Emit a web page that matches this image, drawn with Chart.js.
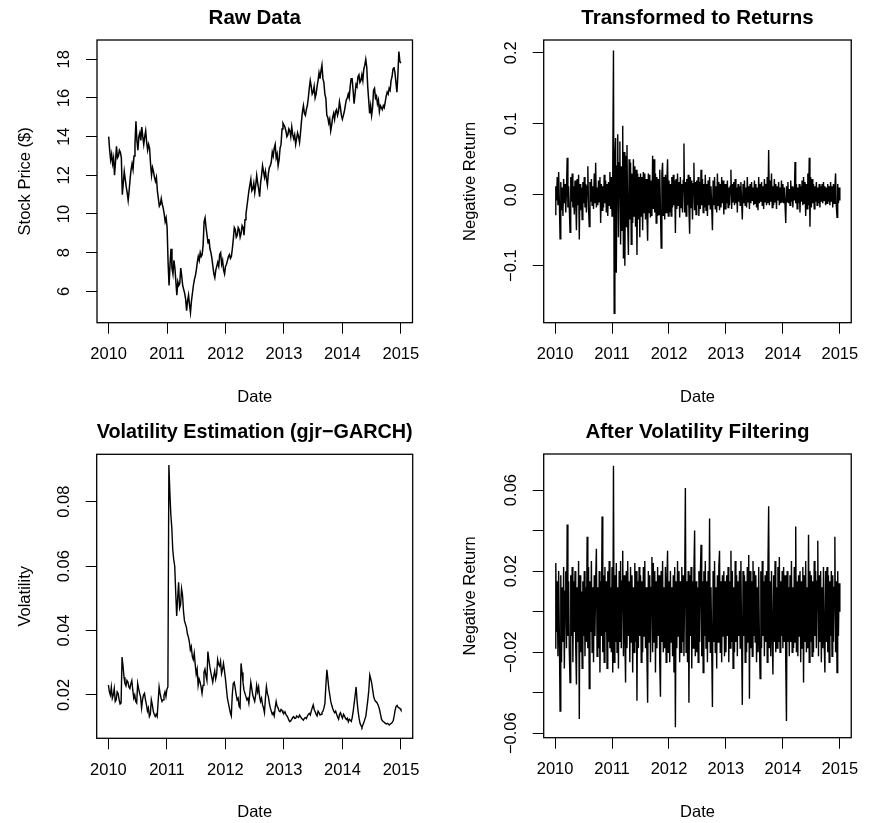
<!DOCTYPE html>
<html><head><meta charset="utf-8">
<script src="https://cdn.jsdelivr.net/npm/chart.js@4.4.1/dist/chart.umd.min.js"></script>
<style>
html,body{margin:0;padding:0;background:#fff;overflow:hidden}
#wrap{position:relative;width:870px;height:823px;background:#fff}
canvas{position:absolute}
</style></head><body>
<div id="wrap">
<canvas id="c1" width="435" height="411" style="left:0;top:0"></canvas>
<canvas id="c2" width="435" height="411" style="left:435px;top:0"></canvas>
<canvas id="c3" width="435" height="412" style="left:0;top:411px"></canvas>
<canvas id="c4" width="435" height="412" style="left:435px;top:411px"></canvas>
</div>
<script>
// ---------- data ----------
const startYear = 2010, endYear = 2015;
const xTicks = [2010, 2011, 2012, 2013, 2014, 2015];
const xTitle = 'Date';

const priceValues = [
 14.0,13.3,12.8,13.1,12.6,12.9,12.0,12.7,13.5,12.9,
 13.0,13.3,13.2,12.9,11.0,11.6,12.2,11.8,11.4,11.1,
 10.7,11.2,11.8,12.3,12.6,12.3,13.0,13.6,14.8,13.8,
 13.3,14.0,14.2,13.8,14.5,14.0,13.6,14.0,14.3,13.7,
 13.3,13.6,13.4,12.6,12.0,12.4,12.2,11.9,11.7,11.9,
 11.2,10.8,10.4,10.5,10.8,10.5,10.3,10.0,9.6,9.8,
 9.3,7.5,6.3,7.4,8.2,7.2,6.9,7.6,7.2,6.5,
 5.8,6.5,6.3,6.4,7.2,6.8,6.3,6.1,5.9,5.6,
 5.0,5.5,5.8,5.3,4.9,5.5,5.9,6.3,6.6,6.8,
 7.1,7.5,7.8,7.6,8.0,7.8,7.9,8.4,9.6,9.8,
 9.3,8.9,8.5,8.7,8.2,8.0,7.7,7.3,6.9,6.7,
 7.1,7.3,7.5,7.3,7.9,8.0,7.4,7.6,7.1,6.9,
 7.3,7.4,7.6,7.8,7.9,7.7,7.8,8.2,8.7,9.3,
 9.2,8.8,8.9,9.3,9.2,8.8,9.0,9.4,9.3,8.9,
 9.7,10.0,10.4,10.8,11.2,11.5,11.8,11.2,11.3,11.6,
 11.1,11.5,12.0,11.6,11.3,10.9,11.6,12.0,12.5,12.2,
 11.9,12.2,11.8,11.5,12.1,12.4,12.5,12.7,13.2,13.0,
 13.4,13.6,12.9,13.1,12.5,12.8,13.4,13.6,14.4,14.7,
 14.6,14.5,14.3,14.0,14.1,14.4,14.3,14.0,14.5,14.1,
 13.9,14.1,13.6,13.9,14.2,14.0,13.7,14.2,14.8,15.3,
 15.6,15.2,15.1,15.4,15.6,16.0,16.5,16.9,16.6,16.2,
 16.3,16.6,16.0,16.2,16.6,16.9,17.3,17.0,17.4,17.7,
 17.0,16.8,16.2,16.0,15.1,15.0,14.7,14.9,14.3,14.6,
 15.0,15.2,14.9,15.3,15.4,15.1,15.3,15.8,15.5,15.1,
 14.9,15.1,15.3,15.6,15.9,16.0,16.2,16.0,16.6,17.0,
 17.0,16.4,15.7,16.2,16.7,16.6,17.1,17.2,16.8,16.9,
 17.2,16.9,17.5,17.7,18.0,17.6,16.6,15.9,15.2,15.6,
 15.1,15.5,16.4,16.5,16.0,16.1,15.7,15.9,15.3,15.6,
 15.5,15.4,15.6,15.5,15.8,16.1,16.3,16.2,16.5,16.4,
 16.9,17.1,17.5,17.6,17.3,16.8,16.3,17.2,18.4,17.9,
 17.8];

const returnValues = [
 -0.028,0.012,-0.008,0.025,-0.015,0.032,-0.010,-0.062,0.018,-0.022,0.010,-0.030,0.022,-0.012,0.015,-0.025,0.008,0.052,-0.018,0.012,
 -0.020,-0.053,0.025,-0.010,0.030,-0.018,0.012,-0.028,0.020,-0.008,-0.050,0.022,-0.015,0.028,-0.063,0.015,-0.022,0.010,-0.035,0.018,
 -0.012,0.025,-0.018,0.015,-0.025,0.012,0.040,-0.020,-0.045,0.018,-0.010,0.022,-0.015,0.012,-0.020,0.030,-0.012,0.045,-0.018,0.010,
 -0.015,0.020,-0.010,0.025,-0.040,0.015,-0.022,0.012,-0.018,0.028,-0.012,0.020,-0.025,0.015,-0.030,0.018,-0.015,0.032,-0.020,0.025,
 -0.030,0.035,0.203,-0.167,0.050,0.080,-0.110,0.040,0.085,-0.060,0.045,0.075,-0.070,0.040,-0.050,0.097,-0.090,0.060,-0.100,0.055,
 -0.045,0.070,-0.040,-0.085,0.050,-0.035,0.045,-0.070,0.030,-0.040,0.050,-0.030,0.040,-0.045,0.035,-0.085,0.030,-0.035,0.025,-0.060,
 0.030,-0.030,0.025,-0.050,0.032,-0.025,0.030,-0.035,0.022,-0.028,-0.065,0.030,-0.025,0.028,-0.032,0.020,-0.030,0.055,-0.020,0.050,
 -0.025,0.030,-0.040,0.025,-0.030,0.022,-0.028,0.035,-0.020,-0.075,0.030,0.045,-0.030,0.025,-0.035,0.028,-0.025,0.020,0.050,-0.030,
 0.020,-0.025,0.015,-0.030,0.025,-0.018,0.028,-0.015,0.020,-0.054,0.022,-0.020,0.030,-0.015,0.018,-0.032,0.025,-0.018,0.015,-0.025,
 0.020,0.072,-0.025,0.018,-0.030,0.022,-0.015,0.028,-0.020,-0.055,0.025,-0.018,0.020,-0.035,0.015,0.045,-0.022,0.018,-0.028,0.020,
 -0.015,0.025,-0.030,0.018,-0.020,0.035,-0.015,0.022,-0.025,0.015,-0.018,0.028,-0.022,0.015,-0.030,0.020,-0.015,0.025,-0.020,0.012,
 -0.018,-0.050,0.020,-0.015,0.025,-0.020,0.012,-0.025,0.030,-0.015,0.018,-0.022,0.015,-0.018,0.025,-0.012,0.020,-0.028,0.015,-0.020,
 0.015,-0.012,0.020,-0.018,0.010,-0.015,0.012,0.035,-0.020,0.015,-0.010,0.018,-0.015,0.022,-0.012,0.010,-0.025,0.015,-0.010,0.012,
 -0.015,0.018,-0.010,-0.035,0.015,-0.012,0.020,-0.015,0.010,-0.018,0.025,-0.010,0.012,-0.020,0.015,-0.012,0.018,-0.008,0.010,-0.015,
 0.020,-0.012,0.015,-0.018,0.010,-0.022,0.025,-0.012,0.015,-0.010,0.018,-0.015,0.012,-0.020,0.022,-0.010,0.015,-0.015,0.025,-0.012,
 0.063,-0.015,0.020,-0.010,0.030,-0.018,0.012,-0.015,0.022,-0.010,0.015,-0.020,0.012,-0.008,0.018,-0.015,0.010,-0.012,0.020,-0.010,
 0.015,-0.012,0.010,-0.015,-0.040,0.012,-0.010,0.018,-0.012,0.008,-0.015,0.020,-0.010,0.012,-0.018,0.010,-0.008,0.046,-0.012,0.015,
 -0.020,0.010,-0.012,0.015,-0.025,0.012,-0.010,0.020,-0.015,0.025,-0.012,0.018,-0.030,0.015,-0.020,0.030,-0.015,0.052,-0.045,0.025,
 -0.018,0.022,-0.012,0.015,-0.020,0.012,-0.010,0.018,-0.015,0.010,-0.012,0.015,-0.018,0.012,-0.010,0.015,-0.012,0.018,-0.008,0.012,
 -0.015,0.010,-0.012,0.015,-0.010,0.012,-0.015,0.018,-0.010,0.012,-0.018,0.015,-0.012,0.010,0.030,-0.015,-0.032,0.015,-0.012,0.010,
 -0.008];

const volatilityValues = [
 0.0231,0.0210,0.0200,0.0225,0.0190,0.0200,0.0220,0.0180,0.0185,0.0210,
 0.0205,0.0185,0.0172,0.0175,0.0318,0.0290,0.0255,0.0235,0.0228,0.0245,
 0.0240,0.0225,0.0220,0.0235,0.0245,0.0215,0.0190,0.0200,0.0180,0.0175,
 0.0236,0.0220,0.0205,0.0195,0.0160,0.0185,0.0200,0.0205,0.0185,0.0170,
 0.0150,0.0160,0.0133,0.0140,0.0185,0.0170,0.0150,0.0140,0.0133,0.0140,
 0.0133,0.0180,0.0225,0.0205,0.0190,0.0180,0.0185,0.0200,0.0210,0.0195,
 0.0218,0.0225,0.0914,0.0830,0.0760,0.0720,0.0650,0.0620,0.0600,0.0520,
 0.0445,0.0500,0.0550,0.0470,0.0480,0.0530,0.0510,0.0460,0.0430,0.0420,
 0.0410,0.0390,0.0380,0.0365,0.0340,0.0350,0.0320,0.0310,0.0330,0.0295,
 0.0265,0.0280,0.0230,0.0250,0.0240,0.0225,0.0205,0.0230,0.0270,0.0280,
 0.0260,0.0245,0.0335,0.0310,0.0288,0.0270,0.0255,0.0240,0.0260,0.0275,
 0.0250,0.0265,0.0310,0.0295,0.0290,0.0305,0.0267,0.0280,0.0298,0.0275,
 0.0250,0.0220,0.0190,0.0175,0.0160,0.0145,0.0135,0.0200,0.0236,0.0240,
 0.0222,0.0200,0.0185,0.0190,0.0165,0.0160,0.0298,0.0270,0.0240,0.0215,
 0.0205,0.0195,0.0185,0.0190,0.0174,0.0205,0.0240,0.0220,0.0200,0.0190,
 0.0180,0.0200,0.0230,0.0210,0.0225,0.0195,0.0180,0.0190,0.0170,0.0160,
 0.0145,0.0190,0.0226,0.0205,0.0195,0.0175,0.0160,0.0150,0.0140,0.0145,
 0.0135,0.0160,0.0180,0.0165,0.0160,0.0150,0.0148,0.0155,0.0152,0.0145,
 0.0143,0.0148,0.0140,0.0135,0.0130,0.0122,0.0117,0.0120,0.0125,0.0130,
 0.0133,0.0127,0.0128,0.0135,0.0132,0.0130,0.0138,0.0133,0.0128,0.0125,
 0.0122,0.0128,0.0130,0.0127,0.0135,0.0140,0.0143,0.0138,0.0150,0.0160,
 0.0169,0.0155,0.0148,0.0140,0.0135,0.0150,0.0145,0.0138,0.0140,0.0146,
 0.0150,0.0160,0.0174,0.0230,0.0278,0.0250,0.0220,0.0200,0.0180,0.0168,
 0.0158,0.0150,0.0145,0.0150,0.0140,0.0132,0.0125,0.0140,0.0145,0.0135,
 0.0128,0.0140,0.0135,0.0128,0.0124,0.0128,0.0117,0.0125,0.0122,0.0118,
 0.0130,0.0150,0.0174,0.0200,0.0225,0.0180,0.0150,0.0128,0.0112,0.0105,
 0.0100,0.0108,0.0115,0.0125,0.0135,0.0160,0.0185,0.0215,0.0262,0.0250,
 0.0236,0.0215,0.0195,0.0185,0.0180,0.0178,0.0172,0.0165,0.0155,0.0140,
 0.0125,0.0120,0.0117,0.0115,0.0112,0.0110,0.0112,0.0110,0.0107,0.0110,
 0.0112,0.0115,0.0120,0.0135,0.0153,0.0165,0.0168,0.0162,0.0160,0.0158,
 0.0153];

const filteredValues = [
 -0.018,0.024,-0.010,0.015,-0.022,0.020,-0.012,-0.049,0.018,-0.025,0.012,-0.015,0.022,-0.028,0.010,0.020,-0.018,0.043,-0.012,0.015,
 -0.020,-0.035,0.018,-0.012,0.022,-0.025,0.015,-0.010,0.020,-0.018,-0.036,0.012,-0.015,0.025,-0.053,0.018,-0.020,0.010,-0.028,0.015,
 -0.012,0.020,-0.022,0.012,-0.015,0.037,-0.018,0.022,-0.038,0.015,-0.010,0.025,-0.020,0.012,-0.025,0.018,-0.012,0.015,0.031,-0.022,
 0.012,-0.018,0.020,-0.030,0.015,-0.012,0.047,-0.020,0.018,-0.025,0.022,-0.010,0.015,-0.028,0.020,-0.015,0.025,-0.018,0.012,-0.020,
 0.022,-0.030,0.072,-0.025,0.018,-0.015,0.024,-0.020,0.012,-0.028,0.020,-0.015,0.025,-0.018,0.015,0.030,-0.022,0.018,-0.012,-0.035,
 0.020,-0.018,0.025,-0.012,0.015,-0.025,0.022,-0.015,0.018,-0.030,0.012,-0.020,0.024,-0.015,0.020,-0.044,0.015,-0.018,0.022,-0.012,
 0.018,-0.025,0.015,-0.020,0.022,-0.012,0.025,-0.018,0.012,-0.022,-0.045,0.020,-0.015,0.018,-0.025,0.012,0.027,-0.020,0.024,-0.015,
 0.020,-0.030,0.015,-0.018,0.022,-0.012,0.018,-0.025,-0.042,0.020,-0.015,0.025,-0.020,0.012,-0.018,0.022,-0.025,0.015,0.030,-0.020,
 0.015,-0.025,0.020,-0.015,0.012,-0.022,0.018,-0.030,0.022,-0.057,0.015,-0.018,0.025,-0.012,0.020,-0.025,0.015,-0.020,0.022,-0.015,
 0.018,-0.022,0.012,0.061,-0.020,0.015,-0.025,0.020,-0.045,0.018,-0.012,0.022,-0.028,0.015,-0.018,0.020,0.040,-0.022,0.015,-0.020,
 0.012,-0.025,0.020,-0.015,0.018,0.033,-0.022,0.015,-0.030,0.020,-0.012,0.025,-0.018,0.015,-0.025,0.020,-0.015,0.046,-0.020,0.012,
 -0.018,-0.047,0.020,-0.015,0.025,-0.020,0.012,-0.028,0.018,-0.015,0.022,0.030,-0.020,0.015,-0.025,0.018,-0.012,0.020,-0.022,0.015,
 -0.020,0.018,-0.012,0.022,-0.025,0.015,-0.018,0.030,-0.015,0.020,-0.028,0.012,-0.020,0.025,-0.015,0.018,-0.022,0.015,-0.012,0.020,
 -0.018,0.025,-0.015,-0.046,0.020,-0.012,0.018,-0.025,0.015,-0.020,0.022,-0.015,0.028,-0.043,0.020,-0.018,0.015,-0.022,0.025,-0.012,
 0.020,-0.015,0.018,-0.025,0.012,-0.020,0.022,-0.015,-0.033,0.020,-0.018,0.025,-0.012,0.015,-0.022,0.018,-0.015,0.020,-0.025,0.022,
 0.052,-0.018,0.015,-0.022,0.020,-0.012,-0.031,0.018,-0.015,0.025,-0.020,0.012,-0.018,0.022,-0.015,0.027,-0.020,0.015,-0.012,0.020,
 -0.018,0.022,-0.015,0.018,-0.025,-0.054,0.020,-0.015,0.012,-0.022,0.018,-0.015,0.025,-0.020,0.012,-0.018,0.022,-0.015,0.042,-0.020,
 0.015,-0.022,0.018,-0.012,0.020,-0.025,0.015,-0.018,0.022,-0.035,0.018,-0.015,0.025,-0.020,0.012,-0.018,0.038,-0.025,0.020,-0.015,
 0.018,-0.022,0.015,-0.020,0.025,-0.012,0.020,-0.018,0.015,0.035,-0.022,0.018,-0.015,0.020,-0.025,0.012,-0.018,0.022,-0.015,-0.030,
 0.020,-0.015,0.022,-0.020,0.018,-0.025,0.015,-0.012,0.020,-0.022,0.018,-0.015,0.012,0.037,-0.020,0.015,-0.030,0.020,-0.012,0.014,
 0.000];

const priceTicks = [6, 8, 10, 12, 14, 16, 18];
const priceTickLabels = ['6', '8', '10', '12', '14', '16', '18'];
const returnTicks = [-0.1, 0, 0.1, 0.2];
const returnTickLabels = ['\u22120.1', '0.0', '0.1', '0.2'];
const volTicks = [0.02, 0.04, 0.06, 0.08];
const volTickLabels = ['0.02', '0.04', '0.06', '0.08'];
const filtTicks = [-0.06, -0.04, -0.02, 0, 0.02, 0.04, 0.06];
const filtTickLabels = ['\u22120.06', '', '\u22120.02', '', '0.02', '', '0.06'];

// sampling dates (regular grid between start and end)
function datesFor(values) {
  const n = values.length;
  return values.map((_, i) => startYear + i * (endYear - startYear) / (n - 1));
}

// ---------- drawing ----------
const FONT = '"Liberation Sans", Arial, Helvetica, sans-serif';
Chart.defaults.font.family = FONT;
const AX = 16.5, TT = 20.5;

function makePanel(id, cfg) {
  const canvas = document.getElementById(id);
  const W = canvas.width, H = canvas.height;
  const b = cfg.box;
  const dates = datesFor(cfg.values);
  const rPlugin = {
    id: 'rstyle' + id,
    afterDraw(chart) {
      const {ctx, chartArea: a} = chart;
      const ys = chart.scales.y;
      ctx.save();
      ctx.strokeStyle = '#000';
      ctx.lineWidth = 1.3;
      ctx.strokeRect(a.left, a.top, a.right - a.left, a.bottom - a.top);
      ctx.font = AX + 'px ' + FONT;
      ctx.fillStyle = '#000';
      ctx.textAlign = 'center';
      ctx.textBaseline = 'middle';
      ys.ticks.forEach((t, k) => {
        const lab = cfg.yLabels[k];
        if (!lab) return;
        const py = ys.getPixelForValue(t.value);
        ctx.save();
        ctx.translate(a.left - 32.5, py);
        ctx.rotate(-Math.PI / 2);
        ctx.fillText(lab, 0, 0);
        ctx.restore();
      });
      ctx.restore();
    }
  };
  const gridOpts = {drawOnChartArea: false, drawTicks: true, tickLength: 11, color: '#000', lineWidth: 1};
  return new Chart(canvas, {
    type: 'line',
    data: {datasets: [{
      data: cfg.values.map((v, i) => ({x: dates[i], y: v})),
      borderColor: '#000', borderWidth: cfg.lw, pointRadius: 0, tension: 0, fill: false
    }]},
    options: {
      responsive: false, animation: false, devicePixelRatio: 1,
      layout: {padding: {left: 0, top: 0, right: W - b.r, bottom: 0}},
      plugins: {
        legend: {display: false}, tooltip: {enabled: false},
        title: {display: true, text: cfg.title, fullSize: false, color: '#000',
          font: {size: TT, weight: 'bold', lineHeight: 1.2},
          padding: {top: b.t - 21.5 - 12.3, bottom: 21.5 + 12.3 - TT * 1.2}}
      },
      scales: {
        x: {
          type: 'linear', position: 'bottom', min: 2009.8, max: 2015.2,
          afterBuildTicks: s => { s.ticks = xTicks.map(v => ({value: v})); },
          afterFit: s => { s.height = H - b.b; },
          grid: gridOpts, border: {display: false},
          ticks: {color: '#000', font: {size: AX, lineHeight: 1.2}, padding: 32 - 11 - AX * 0.6,
            maxRotation: 0, minRotation: 0, autoSkip: false, callback: v => String(v)},
          title: {display: true, text: xTitle, color: '#000', font: {size: AX, lineHeight: 1.2},
            padding: {top: 0, bottom: H - (b.b + 74.3) - AX * 0.6}}
        },
        y: {
          type: 'linear', position: 'left', min: cfg.yMin, max: cfg.yMax,
          afterBuildTicks: s => { s.ticks = cfg.yTicks.map(v => ({value: v})); },
          afterFit: s => { s.width = b.l; },
          grid: gridOpts, border: {display: false},
          ticks: {display: false},
          title: {display: true, text: cfg.yTitle, color: '#000', font: {size: AX, lineHeight: 1.2},
            padding: {top: cfg.ylabX - AX * 0.6, bottom: 0}}
        }
      }
    },
    plugins: [rPlugin]
  });
}

makePanel('c1', {title: 'Raw Data', yTitle: 'Stock Price ($)', values: priceValues, lw: 1.5,
  yTicks: priceTicks, yLabels: priceTickLabels, yMin: 4.375, yMax: 19.0,
  box: {l: 97, t: 40, r: 412.5, b: 322.7}, ylabX: 25});
makePanel('c2', {title: 'Transformed to Returns', yTitle: 'Negative Return', values: returnValues, lw: 1.4,
  yTicks: returnTicks, yLabels: returnTickLabels, yMin: -0.1803, yMax: 0.2179,
  box: {l: 108.7, t: 40, r: 424, b: 322.7}, ylabX: 35});
makePanel('c3', {title: 'Volatility Estimation (gjr\u2212GARCH)', yTitle: 'Volatility', values: volatilityValues, lw: 1.4,
  yTicks: volTicks, yLabels: volTickLabels, yMin: 0.00656, yMax: 0.0947,
  box: {l: 96.7, t: 43.3, r: 412.7, b: 327.3}, ylabX: 25});
makePanel('c4', {title: 'After Volatility Filtering', yTitle: 'Negative Return', values: filteredValues, lw: 1.4,
  yTicks: filtTicks, yLabels: filtTickLabels, yMin: -0.0622, yMax: 0.0778,
  box: {l: 108.7, t: 43, r: 424, b: 326.7}, ylabX: 35});
</script>
</body></html>
